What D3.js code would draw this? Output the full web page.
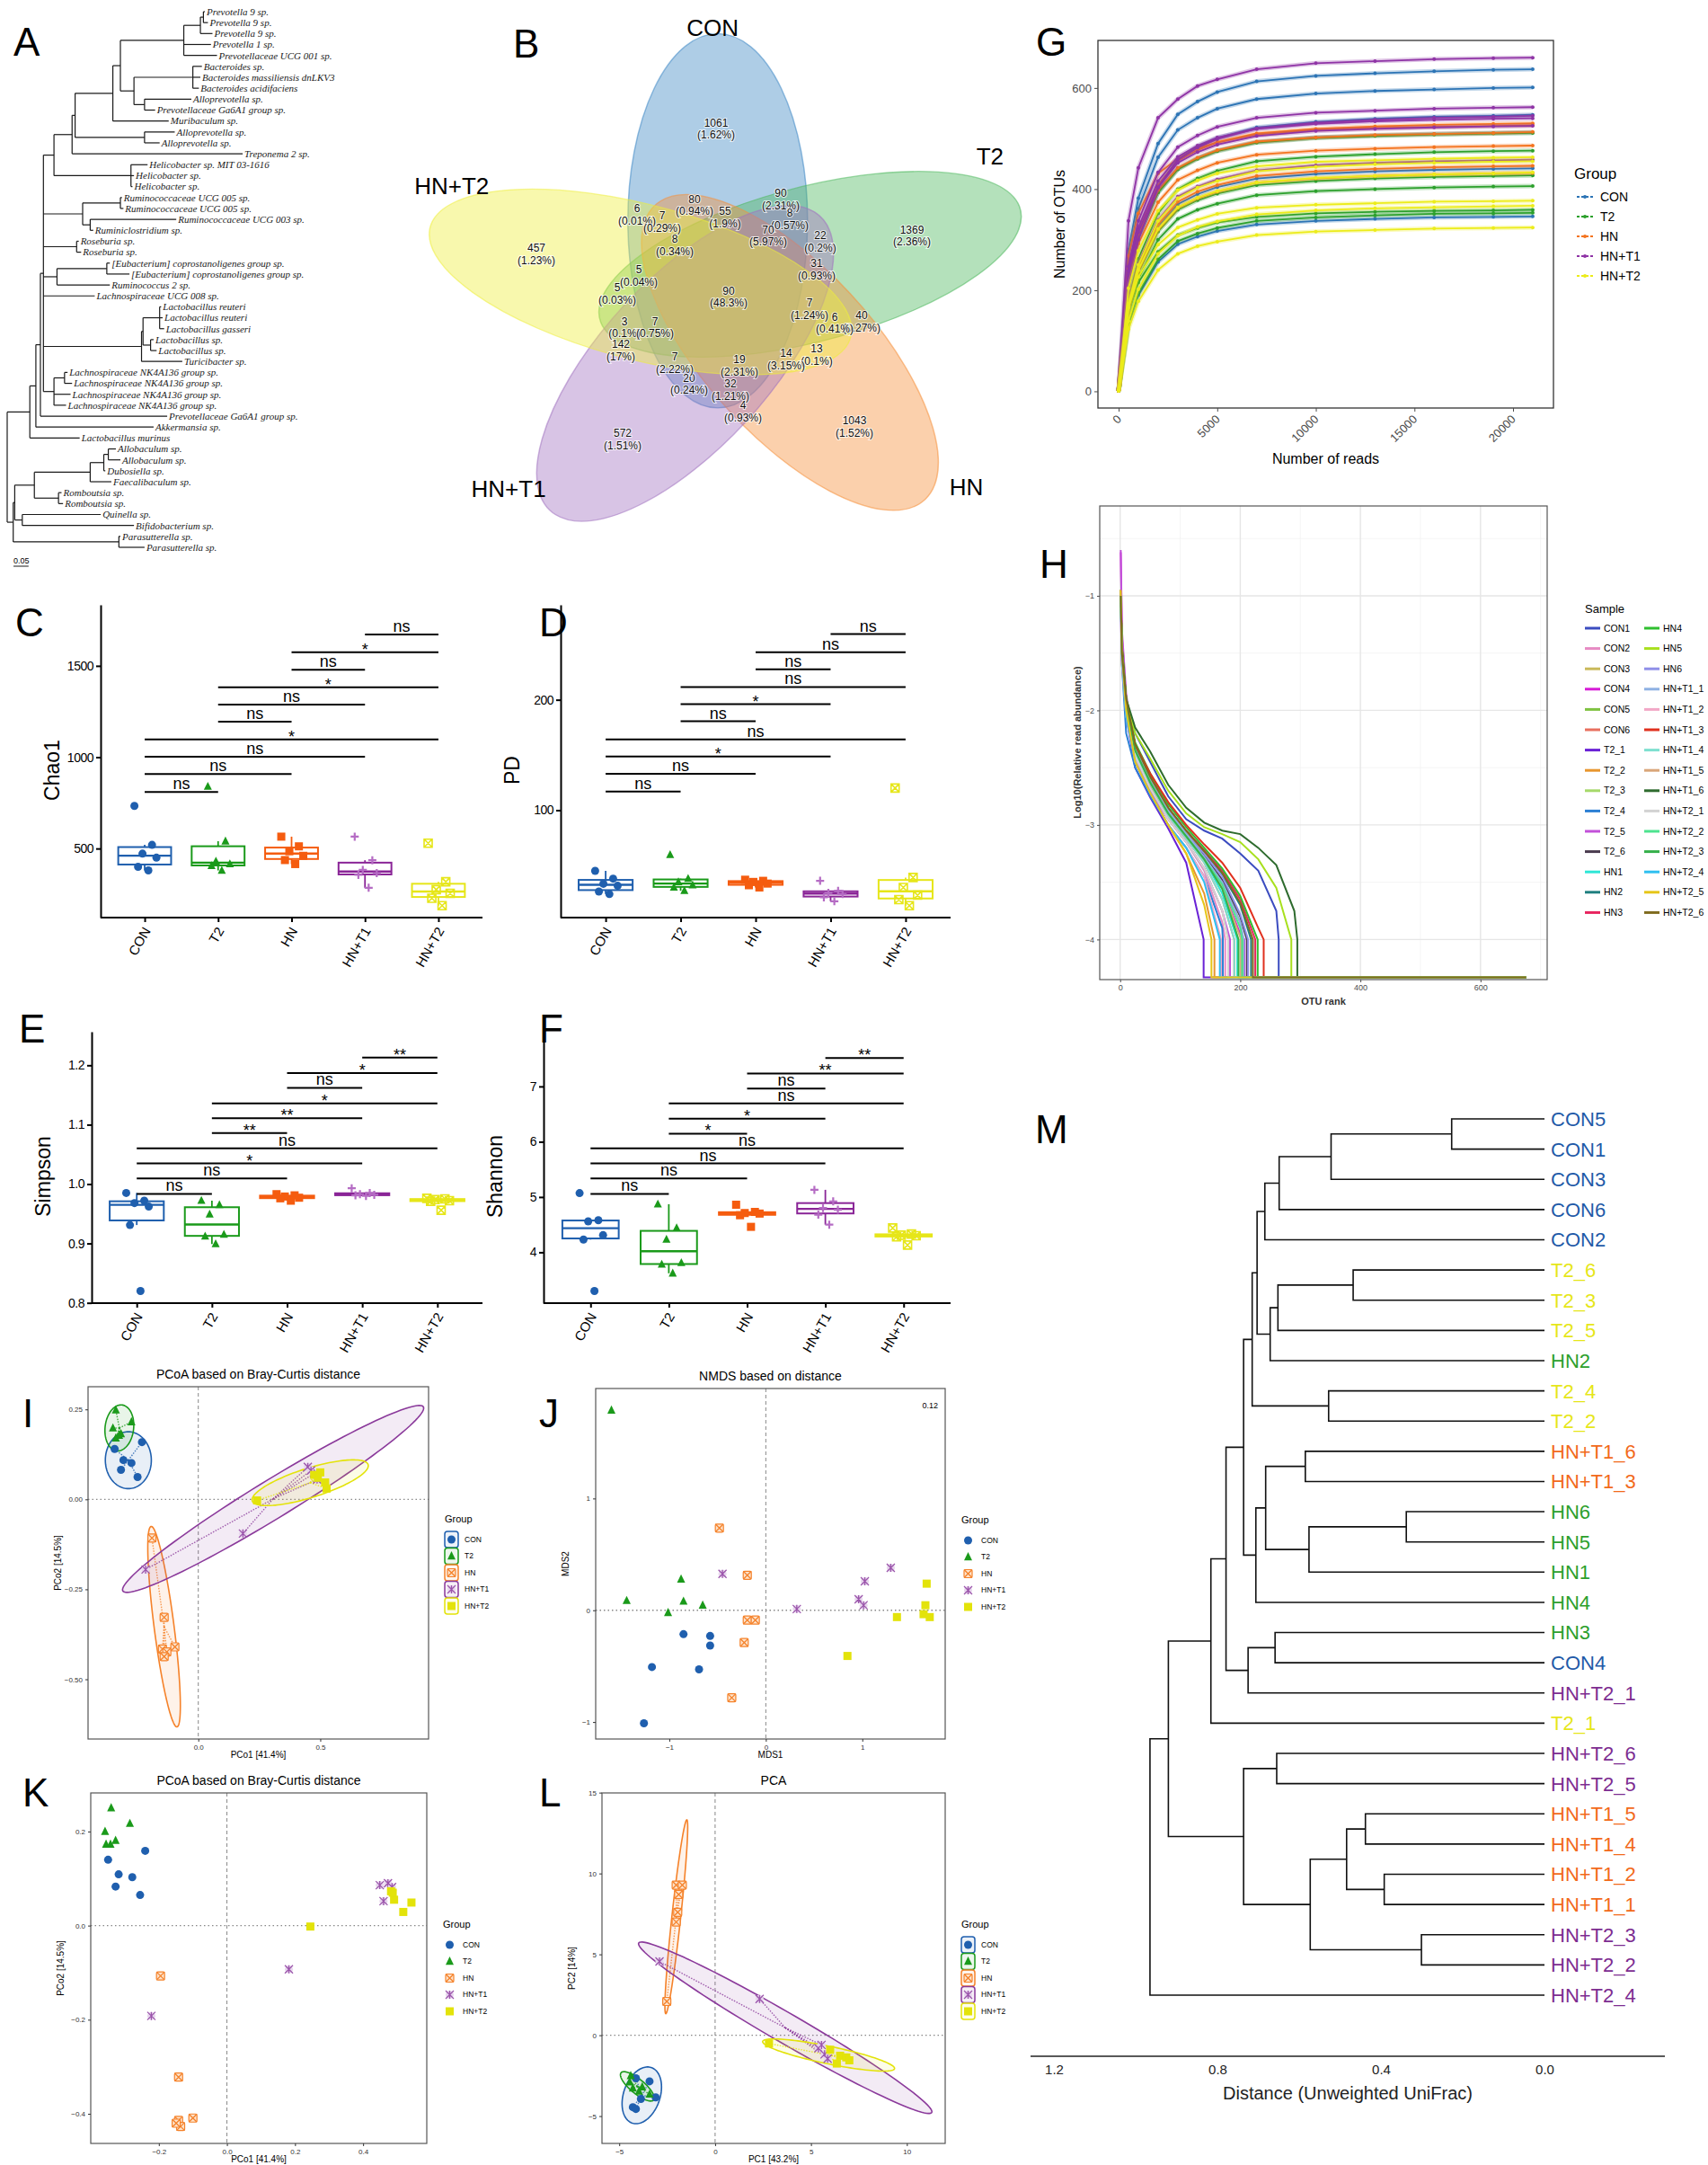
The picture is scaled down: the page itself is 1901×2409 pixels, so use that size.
<!DOCTYPE html>
<html>
<head>
<meta charset="utf-8">
<title>Gut microbiota diversity figure</title>
<script src="https://cdn.jsdelivr.net/npm/d3@7/dist/d3.min.js"></script>
<style>
  body { margin: 0; background: #fff; }
  svg { display: block; }
</style>
</head>
<body>
<svg id="figure" width="1901" height="2409"></svg>
<script>
const groups = ['CON', 'T2', 'HN', 'HN+T1', 'HN+T2'];

// A: phylogenetic tree (leaf index : branch length)
const treeNewick =
  '(((((((((((((0:0.005,1:0.015):0.01,2:0.04):0.055,3:0.09,4:0.11):0.21,' +
  '((5:0.03,6:0.025,7:0.02):0.195,(8:0.155,9:0.035):0.035):0.045):0.025,' +
  '10:0.185):0.125,(11:0.1,12:0.05):0.23):0.01,13:0.565):0.06,' +
  '(14:0.055,15:0.01,16:0.005):0.255):0.035,' +
  '((17:0.005,18:0.01):0.125,(19:0.285,20:0.01):0.025):0.13,' +
  '(21:0.007,22:0.015):0.11,' +
  '((23:0.01,24:0.075):0.165,25:0.175):0.045,' +
  '26:0.17,' +
  '(((27:0.005,28:0.01,29:0.015):0.055,(30:0.01,31:0.02):0.025):0.005,32:0.135):0.325,' +
  '((33:0.01,34:0.025):0.035,35:0.055,36:0.04):0.035):0.01,' +
  '37:0.42):0.015,38:0.39):0.02,39:0.165):0.075,' +
  '((((((40:0.025,41:0.04):0.015,42:0.005):0.045,43:0.07):0.185,(44:0.01,45:0.015):0.08):0.065,' +
  '(46:0.26,47:0.37):0.025):0.005,(48:0.005,49:0.085):0.35):0.02);';
const treeLeafNames = [
  'Prevotella 9 sp.', 'Prevotella 9 sp.', 'Prevotella 9 sp.', 'Prevotella 1 sp.', 'Prevotellaceae UCG 001 sp.',
  'Bacteroides sp.', 'Bacteroides massiliensis dnLKV3', 'Bacteroides acidifaciens', 'Alloprevotella sp.',
  'Prevotellaceae Ga6A1 group sp.', 'Muribaculum sp.', 'Alloprevotella sp.', 'Alloprevotella sp.',
  'Treponema 2 sp.', 'Helicobacter sp. MIT 03-1616', 'Helicobacter sp.', 'Helicobacter sp.',
  'Ruminococcaceae UCG 005 sp.', 'Ruminococcaceae UCG 005 sp.', 'Ruminococcaceae UCG 003 sp.',
  'Ruminiclostridium sp.', 'Roseburia sp.', 'Roseburia sp.', '[Eubacterium] coprostanoligenes group sp.',
  '[Eubacterium] coprostanoligenes group sp.', 'Ruminococcus 2 sp.', 'Lachnospiraceae UCG 008 sp.',
  'Lactobacillus reuteri', 'Lactobacillus reuteri', 'Lactobacillus gasseri', 'Lactobacillus sp.',
  'Lactobacillus sp.', 'Turicibacter sp.', 'Lachnospiraceae NK4A136 group sp.',
  'Lachnospiraceae NK4A136 group sp.', 'Lachnospiraceae NK4A136 group sp.', 'Lachnospiraceae NK4A136 group sp.',
  'Prevotellaceae Ga6A1 group sp.', 'Akkermansia sp.', 'Lactobacillus murinus', 'Allobaculum sp.',
  'Allobaculum sp.', 'Dubosiella sp.', 'Faecalibaculum sp.', 'Romboutsia sp.', 'Romboutsia sp.',
  'Quinella sp.', 'Bifidobacterium sp.', 'Parasutterella sp.', 'Parasutterella sp.'
];

// B: Venn of OTUs
const vennSets = [
  'CON', 'T2', 'HN', 'HN+T1', 'HN+T2',
  'CON&T2', 'CON&HN', 'CON&HN+T1', 'CON&HN+T2', 'T2&HN', 'T2&HN+T1', 'T2&HN+T2', 'HN&HN+T1', 'HN&HN+T2', 'HN+T1&HN+T2',
  'CON&T2&HN', 'CON&T2&HN+T1', 'CON&T2&HN+T2', 'CON&HN&HN+T1', 'CON&HN&HN+T2', 'CON&HN+T1&HN+T2',
  'T2&HN&HN+T1', 'T2&HN&HN+T2', 'T2&HN+T1&HN+T2', 'HN&HN+T1&HN+T2',
  'CON&T2&HN&HN+T1', 'CON&T2&HN&HN+T2', 'CON&T2&HN+T1&HN+T2', 'CON&HN&HN+T1&HN+T2', 'T2&HN&HN+T1&HN+T2',
  'CON&T2&HN&HN+T1&HN+T2'
];
const vennCounts = [1061, 1369, 1043, 572, 457, 90, 80, 20, 6, 40, 22, 5, 4, 13, 142,
  55, 8, 5, 32, 7, 7, 31, 6, 3, 14, 70, 8, 7, 19, 7, 90];
const vennPercents = ['1.62%', '2.36%', '1.52%', '1.51%', '1.23%', '2.31%', '0.94%', '0.24%', '0.01%', '0.27%',
  '0.2%', '0.03%', '0.93%', '0.1%', '17%', '1.9%', '0.57%', '0.04%', '1.21%', '0.29%', '2.22%', '0.93%',
  '0.41%', '0.1%', '3.15%', '5.97%', '0.34%', '0.75%', '2.31%', '1.24%', '48.3%'];

// G: rarefaction curves
const rareDepths = [1, 500, 1000, 2000, 3000, 4000, 5000, 7000, 10000, 13000, 16000, 19000, 21000];
const rareGroups = ['CON', 'CON', 'CON', 'CON', 'CON', 'CON', 'T2', 'T2', 'T2', 'T2', 'T2', 'T2',
  'HN', 'HN', 'HN', 'HN', 'HN', 'HN', 'HN+T1', 'HN+T1', 'HN+T1', 'HN+T1', 'HN+T1', 'HN+T1',
  'HN+T2', 'HN+T2', 'HN+T2', 'HN+T2', 'HN+T2', 'HN+T2'];
const rareOTUs = [
  [1, 280, 382, 490, 548, 573, 592, 613, 624, 629, 633, 636, 637],
  [1, 264, 361, 463, 517, 541, 559, 578, 589, 594, 597, 600, 601],
  [1, 208, 301, 405, 459, 484, 501, 522, 533, 539, 543, 545, 547],
  [1, 225, 307, 394, 440, 461, 476, 493, 502, 506, 509, 511, 512],
  [1, 168, 243, 326, 370, 390, 404, 421, 430, 435, 438, 440, 441],
  [1, 131, 190, 256, 291, 306, 317, 330, 337, 341, 344, 345, 346],
  [1, 225, 307, 393, 439, 460, 475, 492, 501, 505, 508, 510, 511],
  [1, 181, 262, 352, 400, 421, 436, 455, 464, 469, 473, 475, 476],
  [1, 162, 235, 316, 359, 378, 391, 408, 416, 421, 424, 426, 427],
  [1, 154, 223, 300, 341, 359, 371, 388, 396, 400, 403, 405, 406],
  [1, 158, 215, 276, 309, 323, 334, 345, 352, 355, 357, 358, 359],
  [1, 134, 194, 261, 297, 312, 323, 337, 344, 348, 351, 352, 353],
  [1, 233, 318, 408, 456, 477, 493, 510, 519, 524, 527, 529, 530],
  [1, 268, 352, 431, 460, 481, 492, 508, 517, 521, 523, 525, 526],
  [1, 214, 292, 374, 418, 437, 452, 468, 476, 480, 483, 485, 486],
  [1, 169, 245, 330, 375, 395, 408, 426, 435, 440, 443, 445, 446],
  [1, 164, 238, 320, 363, 382, 395, 413, 421, 426, 429, 431, 432],
  [1, 230, 312, 398, 442, 462, 477, 494, 502, 507, 509, 511, 513],
  [1, 337, 442, 541, 578, 604, 617, 637, 649, 653, 657, 659, 660],
  [1, 247, 337, 433, 483, 506, 523, 541, 551, 555, 559, 561, 562],
  [1, 207, 300, 403, 458, 482, 499, 520, 531, 537, 541, 543, 545],
  [1, 238, 324, 416, 464, 486, 502, 519, 529, 534, 537, 539, 540],
  [1, 231, 315, 404, 452, 473, 488, 505, 515, 519, 522, 524, 525],
  [1, 174, 252, 339, 385, 405, 419, 437, 447, 452, 455, 457, 458],
  [1, 204, 278, 357, 398, 417, 431, 445, 454, 457, 460, 462, 463],
  [1, 173, 250, 337, 382, 403, 416, 435, 444, 449, 452, 454, 455],
  [1, 166, 240, 321, 364, 383, 396, 413, 422, 426, 429, 431, 433],
  [1, 166, 226, 290, 324, 339, 351, 363, 369, 372, 375, 376, 377],
  [1, 139, 202, 272, 308, 325, 336, 350, 358, 362, 364, 366, 367],
  [1, 123, 178, 240, 272, 287, 296, 309, 316, 319, 322, 323, 324]
];

// H: rank abundance curves
const rankGrid = [1, 3, 10, 25, 50, 80, 110, 140, 170, 200, 230, 260, 290];
const rankSamples = ['CON1', 'CON2', 'CON3', 'CON4', 'CON5', 'CON6', 'T2_1', 'T2_2', 'T2_3', 'T2_4', 'T2_5', 'T2_6',
  'HN1', 'HN2', 'HN3', 'HN4', 'HN5', 'HN6', 'HN+T1_1', 'HN+T1_2', 'HN+T1_3', 'HN+T1_4', 'HN+T1_5', 'HN+T1_6',
  'HN+T2_1', 'HN+T2_2', 'HN+T2_3', 'HN+T2_4', 'HN+T2_5', 'HN+T2_6'];
const rankColors = ['#3b4cc0', '#e78ac3', '#c9b95a', '#d61cd6', '#7fc241', '#e8705f', '#6a22d6', '#e8962e',
  '#a6d96a', '#2b7fd4', '#c251d9', '#4a3b4f', '#2ee6d6', '#1f7f7f', '#e8245f', '#2fbf2f', '#a8e01e', '#8f8fe8',
  '#8fb1e3', '#f2a7c6', '#e0301e', '#7fe0d0', '#d9a679', '#2e6b2e', '#d3d3d3', '#4de38f', '#35b04a', '#2fbff0',
  '#e6c619', '#7f6b1f'];
const rankEnds = [264, 175, 180, 207, 205, 190, 139, 157, 197, 171, 183, 211, 195, 218, 225, 229, 285, 213,
  206, 168, 239, 190, 201, 295, 180, 203, 197, 166, 152, 221];
const rankMaxRank = 676;
const rankValues = [
  [-0.95, -1.45, -1.9, -2.2, -2.45, -2.75, -2.95, -3.05, -3.12, -3.25, -3.4, -3.75],
  [-1.1, -1.6, -2.0, -2.45, -2.72, -2.95, -3.15, -3.4, -3.85],
  [-1.05, -1.5, -1.95, -2.4, -2.68, -2.95, -3.15, -3.38, -3.75],
  [-0.62, -1.35, -1.9, -2.35, -2.62, -2.9, -3.1, -3.3, -3.55, -3.95],
  [-0.95, -1.45, -1.95, -2.35, -2.6, -2.88, -3.08, -3.28, -3.5, -3.85],
  [-1.0, -1.55, -2.0, -2.4, -2.65, -2.92, -3.12, -3.33, -3.65],
  [-1.05, -1.55, -2.05, -2.5, -2.76, -3.03, -3.33],
  [-0.95, -1.5, -2.0, -2.45, -2.72, -3.0, -3.25, -3.6],
  [-1.0, -1.5, -1.95, -2.35, -2.62, -2.9, -3.1, -3.3, -3.55],
  [-1.1, -1.6, -2.2, -2.5, -2.75, -3.0, -3.2, -3.45, -3.9],
  [-0.6, -1.3, -1.85, -2.4, -2.7, -2.95, -3.15, -3.38, -3.75],
  [-1.0, -1.5, -1.95, -2.3, -2.6, -2.88, -3.08, -3.27, -3.48, -3.8],
  [-1.05, -1.5, -1.95, -2.35, -2.62, -2.9, -3.1, -3.3, -3.6],
  [-1.0, -1.5, -1.9, -2.3, -2.58, -2.85, -3.05, -3.23, -3.43, -3.7],
  [-1.0, -1.5, -1.9, -2.3, -2.58, -2.85, -3.05, -3.22, -3.4, -3.65],
  [-1.0, -1.45, -1.9, -2.28, -2.55, -2.82, -3.02, -3.2, -3.38, -3.62],
  [-1.0, -1.45, -1.9, -2.2, -2.42, -2.7, -2.9, -3.02, -3.08, -3.15, -3.3, -3.55],
  [-1.0, -1.5, -1.95, -2.32, -2.6, -2.87, -3.07, -3.25, -3.45, -3.78],
  [-1.0, -1.5, -1.95, -2.35, -2.62, -2.88, -3.08, -3.28, -3.5, -3.85],
  [-1.15, -1.6, -2.05, -2.45, -2.72, -3.0, -3.2, -3.45],
  [-1.0, -1.45, -1.95, -2.3, -2.55, -2.8, -3.0, -3.17, -3.33, -3.55, -3.9],
  [-1.0, -1.5, -1.95, -2.38, -2.64, -2.92, -3.12, -3.33, -3.65],
  [-1.0, -1.5, -1.95, -2.35, -2.62, -2.9, -3.1, -3.3, -3.55, -3.98],
  [-1.0, -1.45, -1.9, -2.15, -2.36, -2.65, -2.85, -2.98, -3.05, -3.08, -3.2, -3.35, -3.75],
  [-1.1, -1.55, -2.0, -2.4, -2.68, -2.95, -3.15, -3.38, -3.75],
  [-1.0, -1.5, -1.95, -2.35, -2.62, -2.9, -3.1, -3.3, -3.52, -3.9],
  [-1.0, -1.5, -1.95, -2.35, -2.63, -2.9, -3.1, -3.3, -3.56],
  [-1.0, -1.55, -2.05, -2.45, -2.72, -3.0, -3.2, -3.5],
  [-0.95, -1.5, -2.0, -2.45, -2.72, -3.0, -3.25, -3.7],
  [-1.0, -1.5, -1.9, -2.3, -2.58, -2.85, -3.05, -3.23, -3.42, -3.68]
];

// C-F: alpha diversity, 6 samples per group
const chao1 = [[733, 520, 472, 450, 400, 380], [839, 540, 430, 415, 405, 380], [565, 512, 485, 460, 437, 415],
  [565, 436, 383, 365, 356, 285], [529, 318, 275, 255, 228, 187]];
const pdIndex = [[45, 38, 33.3, 31.5, 26.3, 24], [59.5, 38, 35, 32, 30, 27], [37, 36, 35, 33.5, 32, 30],
  [36, 27, 25, 24, 21, 17.5], [120, 39, 30, 23, 19, 13.5]];
const simpson = [[0.985, 0.972, 0.968, 0.962, 0.931, 0.820], [0.972, 0.965, 0.949, 0.915, 0.912, 0.899],
  [0.983, 0.981, 0.979, 0.977, 0.976, 0.972], [0.993, 0.985, 0.983, 0.982, 0.981, 0.980],
  [0.976, 0.975, 0.974, 0.972, 0.971, 0.956]];
const shannon = [[5.07, 4.58, 4.56, 4.31, 4.23, 3.30], [4.87, 4.44, 4.23, 3.81, 3.78, 3.62],
  [4.86, 4.73, 4.71, 4.70, 4.67, 4.46], [5.13, 4.92, 4.80, 4.77, 4.68, 4.50], [4.44, 4.33, 4.31, 4.30, 4.28, 4.13]];
const sigPairs = [[0, 1], [0, 2], [0, 3], [0, 4], [1, 2], [1, 3], [1, 4], [2, 3], [2, 4], [3, 4]];
const chao1Sig = ['ns', 'ns', 'ns', '*', 'ns', 'ns', '*', 'ns', '*', 'ns'];
const pdSig = ['ns', 'ns', '*', 'ns', 'ns', '*', 'ns', 'ns', 'ns', 'ns'];
const simpsonSig = ['ns', 'ns', '*', 'ns', '**', '**', '*', 'ns', '*', '**'];
const shannonSig = ['ns', 'ns', 'ns', 'ns', '*', '*', 'ns', 'ns', '**', '**'];
const chao1Bars = [810, 908, 1002, 1097, 1195, 1288, 1383, 1479, 1574, 1672];
const pdBars = [116.8, 133, 148.6, 164, 180.5, 196, 211.6, 227.6, 243, 259.5];
const simpsonBars = [0.9835, 1.0096, 1.0348, 1.06, 1.086, 1.111, 1.136, 1.162, 1.187, 1.213];
const shannonBars = [5.056, 5.336, 5.607, 5.879, 6.145, 6.416, 6.692, 6.963, 7.234, 7.514];

// I-L: ordinations, 6 samples per group
const pcoaX = [[-0.343, -0.231, -0.307, -0.274, -0.317, -0.249], [-0.338, -0.274, -0.350, -0.325, -0.338, -0.317],
  [-0.190, -0.140, -0.147, -0.129, -0.096, -0.140], [-0.216, 0.183, 0.449, 0.462, 0.475, 0.487],
  [0.241, 0.475, 0.49, 0.52, 0.526, 0.50]];
const pcoaY = [[0.14, 0.159, 0.109, 0.101, 0.082, 0.062], [0.248, 0.215, 0.198, 0.178, 0.170, 0.182],
  [-0.1075, -0.328, -0.416, -0.424, -0.41, -0.437], [-0.195, -0.095, 0.09, 0.080, 0.072, 0.055],
  [-0.003, 0.068, 0.06, 0.047, 0.03, 0.075]];
const nmdsX = [[-0.853, -0.577, -0.577, -1.18, -0.692, -1.263], [-1.60, -0.878, -1.442, -0.853, -0.654, -1.013],
  [-0.481, -0.192, -0.192, -0.109, -0.224, -0.353], [-0.449, 0.321, 0.962, 1.013, 1.026, 1.295],
  [0.846, 1.359, 1.635, 1.699, 1.654, 1.667]];
const nmdsY = [[-0.214, -0.23, -0.316, -0.508, -0.529, -1.011], [1.789, 0.278, 0.086, 0.080, 0.045, -0.021],
  [0.735, 0.313, -0.088, -0.088, -0.289, -0.783], [0.326, 0.011, 0.099, 0.045, 0.259, 0.380],
  [-0.409, -0.061, -0.035, -0.061, 0.045, 0.238]];
const nmdsStress = '0.12';
const pcoa2X = [[-0.24, -0.349, -0.318, -0.278, -0.327, -0.255], [-0.34, -0.285, -0.358, -0.327, -0.355, -0.342],
  [-0.195, -0.142, -0.142, -0.1, -0.136, -0.149], [-0.222, 0.182, 0.449, 0.473, 0.46, 0.485],
  [0.245, 0.482, 0.491, 0.542, 0.518, 0.487]];
const pcoa2Y = [[0.159, 0.14, 0.109, 0.103, 0.083, 0.065], [0.25, 0.217, 0.2, 0.181, 0.173, 0.173],
  [-0.107, -0.322, -0.414, -0.409, -0.427, -0.42], [-0.192, -0.093, 0.086, 0.090, 0.052, 0.082],
  [-0.002, 0.073, 0.055, 0.049, 0.029, 0.07]];
const pcaX = [[-4.13, -3.42, -4.29, -4.13, -3.87, -3.1], [-4.45, -4.29, -3.97, -3.8, -3.42, -4.4],
  [-2.03, -1.71, -1.9, -2.03, -1.95, -2.52], [-2.9, 2.32, 5.39, 5.71, 5.55, 5.87],
  [2.81, 6.52, 6.84, 6.35, 6.0, 7.0]];
const pcaY = [[-2.66, -2.85, -4.45, -4.56, -3.94, -3.84], [-2.89, -3.27, -3.46, -3.2, -3.65, -2.5],
  [9.28, 9.28, 8.7, 7.0, 7.6, 2.09], [4.56, 2.24, -0.8, -1.18, -0.6, -1.45],
  [-0.51, -1.27, -1.37, -1.75, -0.9, -1.55]];

// M: UPGMA dendrogram (merge rows; numbers refer to earlier rows)
const dendroLeaves = ['CON5', 'CON1', 'CON3', 'CON6', 'CON2', 'T2_6', 'T2_3', 'T2_5', 'HN2', 'T2_4', 'T2_2',
  'HN+T1_6', 'HN+T1_3', 'HN6', 'HN5', 'HN1', 'HN4', 'HN3', 'CON4', 'HN+T2_1', 'T2_1', 'HN+T2_6', 'HN+T2_5',
  'HN+T1_5', 'HN+T1_4', 'HN+T1_2', 'HN+T1_1', 'HN+T2_3', 'HN+T2_2', 'HN+T2_4'];
const mergeLeft = ['CON5', 0, 1, 2, 'T2_6', 4, 5, 3, 'T2_4', 7, 'HN+T1_6', 'HN6', 11, 10, 13, 9, 'HN3', 16, 15, 18,
  'HN+T2_6', 'HN+T1_5', 'HN+T1_2', 21, 'HN+T2_3', 23, 20, 19, 27];
const mergeRight = ['CON1', 'CON3', 'CON6', 'CON2', 'T2_3', 'T2_5', 'HN2', 6, 'T2_2', 8, 'HN+T1_3', 'HN5', 'HN1',
  12, 'HN4', 14, 'CON4', 'HN+T2_1', 17, 'T2_1', 'HN+T2_5', 'HN+T1_4', 'HN+T1_1', 22, 'HN+T2_2', 24, 25, 26,
  'HN+T2_4'];
const mergeHeight = [0.227, 0.522, 0.649, 0.684, 0.468, 0.652, 0.671, 0.703, 0.528, 0.715, 0.585, 0.338, 0.576,
  0.682, 0.706, 0.736, 0.659, 0.725, 0.779, 0.816, 0.655, 0.438, 0.392, 0.484, 0.301, 0.573, 0.736, 0.92, 0.965];

const svg = d3.select('#figure');
const SANS = "'Liberation Sans', Arial, Helvetica, sans-serif";
const SERIF = "'Liberation Serif', 'Times New Roman', serif";

function letter(t, x, y) {
  svg.append('text').attr('x', x).attr('y', y)
    .attr('font-family', SANS).attr('font-size', 44).text(t);
}

function styleAxis(sel, size, color, width) {
  sel.selectAll('text').attr('font-family', SANS).attr('font-size', size).attr('fill', color);
  sel.selectAll('line').attr('stroke', color).attr('stroke-width', width);
  sel.select('.domain').attr('stroke', color).attr('stroke-width', width);
}

function parseNewick(s) {
  let i = 0;
  function node() {
    const n = { children: [] };
    if (s[i] === '(') {
      i++;
      n.children.push(node());
      while (s[i] === ',') { i++; n.children.push(node()); }
      i++;
    }
    let label = '';
    while (i < s.length && !':,);'.includes(s[i])) label += s[i++];
    if (label) n.leaf = +label;
    if (s[i] === ':') {
      i++;
      let len = '';
      while (i < s.length && !',);'.includes(s[i])) len += s[i++];
      n.length = +len;
    }
    return n;
  }
  return node();
}

function drawTree() {
  const root = d3.hierarchy(parseNewick(treeNewick), d => d.children.length ? d.children : null);
  root.eachBefore(d => { d.dist = (d.parent ? d.parent.dist : 0) + (d.data.length || 0); });
  const leaves = root.leaves();
  const x = d3.scaleLinear().domain([0, 1]).range([8, 344]);
  const y = d3.scaleLinear().domain([0, leaves.length - 1]).range([13, 609]);
  leaves.forEach((d, i) => { d.yPos = y(i); });
  root.eachAfter(d => {
    if (d.children) d.yPos = (d.children[0].yPos + d.children[d.children.length - 1].yPos) / 2;
  });

  const g = svg.append('g').attr('stroke', '#1a1a1a').attr('stroke-width', 1.2);
  root.descendants().forEach(d => {
    if (d.parent) {
      g.append('line').attr('x1', x(d.parent.dist)).attr('x2', x(d.dist)).attr('y1', d.yPos).attr('y2', d.yPos);
    }
    if (d.children) {
      g.append('line').attr('x1', x(d.dist)).attr('x2', x(d.dist))
        .attr('y1', d.children[0].yPos).attr('y2', d.children[d.children.length - 1].yPos);
    }
  });

  svg.append('g').selectAll('text').data(leaves).join('text')
    .attr('x', d => x(d.dist) + 2)
    .attr('y', d => d.yPos)
    .attr('dy', '0.35em')
    .attr('font-family', SERIF).attr('font-style', 'italic').attr('font-size', 11)
    .attr('fill', '#1a1a1a')
    .text(d => treeLeafNames[d.data.leaf]);

  svg.append('text').attr('x', 15).attr('y', 627).attr('font-family', SANS).attr('font-size', 9).text('0.05');
  svg.append('line').attr('x1', 15).attr('x2', x(0.05) + 7).attr('y1', 630).attr('y2', 630)
    .attr('stroke', '#1a1a1a').attr('stroke-width', 1);
}

function drawVenn() {
  const cx = 811, cy = 330, squash = 0.85, a = 245, b = 100, off = 100;
  const fills = ['#3d87c4', '#4cb85c', '#f5903a', '#a173c0', '#eeee3c'];
  const ells = groups.map((name, i) => {
    const psi = (-97 + 72 * i) * Math.PI / 180;
    return { name, x: off * Math.cos(psi), y: off * Math.sin(psi), rot: psi + 7 * Math.PI / 180 };
  });

  const g = svg.append('g').attr('transform', `translate(${cx},${cy}) scale(1,${squash})`);
  g.selectAll('ellipse').data(ells).join('ellipse')
    .attr('transform', d => `translate(${d.x},${d.y}) rotate(${d.rot * 180 / Math.PI})`)
    .attr('rx', a).attr('ry', b)
    .attr('fill', (d, i) => fills[i]).attr('fill-opacity', 0.42)
    .attr('stroke', (d, i) => fills[i]).attr('stroke-opacity', 0.55).attr('stroke-width', 1.5);

  // sample the plane, then place each label near its region's centre of mass
  const regions = new Map();
  for (let px = -360; px <= 360; px += 2) {
    for (let py = -360; py <= 360; py += 2) {
      let code = 0, depth = Infinity;
      ells.forEach((e, i) => {
        const dx = px - e.x, dy = py - e.y;
        const c = Math.cos(e.rot), s = Math.sin(e.rot);
        const u = dx * c + dy * s, v = -dx * s + dy * c;
        const g2 = (u * u) / (a * a) + (v * v) / (b * b);
        const gr = 2 * Math.hypot(u / (a * a), v / (b * b)) || 1e-9;
        if (g2 <= 1) code |= 1 << i;
        depth = Math.min(depth, Math.abs(g2 - 1) / gr);
      });
      if (!code) continue;
      if (!regions.has(code)) regions.set(code, []);
      regions.get(code).push({ x: px, y: py, depth });
    }
  }
  const anchor = new Map();
  regions.forEach((pts, code) => {
    const mx = d3.mean(pts, p => p.x), my = d3.mean(pts, p => p.y);
    anchor.set(code, d3.greatest(pts, p => Math.min(p.depth, 24) - 0.15 * Math.hypot(p.x - mx, p.y - my)));
  });

  const labels = svg.append('g').attr('font-family', SANS).attr('font-size', 12)
    .attr('text-anchor', 'middle').attr('fill', '#111')
    .attr('stroke', '#fff').attr('stroke-width', 2.2).attr('stroke-opacity', 0.7)
    .attr('paint-order', 'stroke');
  vennSets.forEach((key, k) => {
    const code = key.split('&').reduce((m, n) => m | (1 << groups.indexOf(n)), 0);
    const p = anchor.get(code);
    const t = labels.append('text').attr('x', cx + p.x).attr('y', cy + p.y * squash);
    t.append('tspan').attr('x', cx + p.x).attr('dy', '-0.2em').text(vennCounts[k]);
    t.append('tspan').attr('x', cx + p.x).attr('dy', '1.15em').text(`(${vennPercents[k]})`);
  });

  const nameAngles = [-93.4, -28.2, 38.7, 138.9, 201.8];
  const nameRadii = [300, 330, 339, 325, 332];
  svg.append('g').selectAll('text').data(groups).join('text')
    .attr('x', (d, i) => cx + nameRadii[i] * Math.cos(nameAngles[i] * Math.PI / 180))
    .attr('y', (d, i) => cy + nameRadii[i] * Math.sin(nameAngles[i] * Math.PI / 180))
    .attr('dy', '0.35em').attr('text-anchor', 'middle')
    .attr('font-family', SANS).attr('font-size', 26).text(d => d);
}

function drawRarefaction() {
  const colors = ['#2c74b5', '#2ca02c', '#f4741f', '#8f34a6', '#ecec1a'];
  const box = [1222, 45, 1729, 454];
  const x = d3.scaleLinear().domain([-1050, 22050]).range([box[0], box[2]]);
  const y = d3.scaleLinear().domain([-33, 694]).range([box[3], box[1]]);
  const g = svg.append('g');
  const line = d3.line().x((d, i) => x(rareDepths[i])).y(d => y(d));

  rareOTUs.forEach((vals, k) => {
    const col = colors[groups.indexOf(rareGroups[k])];
    g.append('path').attr('d', line(vals)).attr('fill', 'none')
      .attr('stroke', col).attr('stroke-opacity', 0.28).attr('stroke-width', 5);
    g.append('path').attr('d', line(vals)).attr('fill', 'none')
      .attr('stroke', col).attr('stroke-width', 1.8);
    g.append('g').selectAll('circle').data(vals).join('circle')
      .attr('cx', (d, i) => x(rareDepths[i])).attr('cy', d => y(d)).attr('r', 2).attr('fill', col);
  });

  svg.append('rect').attr('x', box[0]).attr('y', box[1])
    .attr('width', box[2] - box[0]).attr('height', box[3] - box[1])
    .attr('fill', 'none').attr('stroke', '#333').attr('stroke-width', 1.3);

  const ya = svg.append('g').attr('transform', `translate(${box[0]},0)`)
    .call(d3.axisLeft(y).tickValues([0, 200, 400, 600]).tickSize(4).tickSizeOuter(0));
  ya.select('.domain').remove();
  styleAxis(ya, 13, '#4d4d4d', 1);

  const xa = svg.append('g').attr('transform', `translate(0,${box[3]})`)
    .call(d3.axisBottom(x).tickValues([0, 5000, 10000, 15000, 20000]).tickFormat(d3.format('d')).tickSize(4).tickSizeOuter(0));
  xa.select('.domain').remove();
  styleAxis(xa, 13, '#4d4d4d', 1);
  xa.selectAll('text').attr('y', 0).attr('dy', '0.35em')
    .attr('transform', 'translate(0,10) rotate(-45)').attr('text-anchor', 'end');

  svg.append('text').attr('x', (box[0] + box[2]) / 2).attr('y', 516).attr('text-anchor', 'middle')
    .attr('font-family', SANS).attr('font-size', 16).text('Number of reads');
  svg.append('text').attr('transform', `translate(1185,${(box[1] + box[3]) / 2}) rotate(-90)`)
    .attr('text-anchor', 'middle').attr('font-family', SANS).attr('font-size', 16).text('Number of OTUs');

  const lg = svg.append('g').attr('font-family', SANS);
  lg.append('text').attr('x', 1752).attr('y', 199).attr('font-size', 17).text('Group');
  groups.forEach((name, i) => {
    const yy = 219 + 22 * i;
    lg.append('line').attr('x1', 1755).attr('x2', 1773).attr('y1', yy).attr('y2', yy)
      .attr('stroke', colors[i]).attr('stroke-width', 2).attr('stroke-dasharray', '3,2');
    lg.append('circle').attr('cx', 1764).attr('cy', yy).attr('r', 2).attr('fill', colors[i]);
    lg.append('text').attr('x', 1781).attr('y', yy).attr('dy', '0.35em').attr('font-size', 14).text(name);
  });
}

function drawRankAbundance() {
  const box = [1224, 563, 1722, 1090];
  const floor = -4.33;
  const x = d3.scaleLinear().domain([-34, 711]).range([box[0], box[2]]);
  const y = d3.scaleLinear().domain([-4.35, -0.216]).range([box[3], box[1]]);
  const g = svg.append('g');
  const clip = svg.append('clipPath').attr('id', 'rankClip');
  clip.append('rect').attr('x', box[0]).attr('y', box[1]).attr('width', box[2] - box[0]).attr('height', box[3] - box[1]);

  [100, 300, 500, 700].forEach(v => g.append('line').attr('x1', x(v)).attr('x2', x(v))
    .attr('y1', box[1]).attr('y2', box[3]).attr('stroke', '#f2f2f2').attr('stroke-width', 0.8));
  [-0.5, -1.5, -2.5, -3.5].forEach(v => g.append('line').attr('x1', box[0]).attr('x2', box[2])
    .attr('y1', y(v)).attr('y2', y(v)).attr('stroke', '#f2f2f2').attr('stroke-width', 0.8));
  [0, 200, 400, 600].forEach(v => g.append('line').attr('x1', x(v)).attr('x2', x(v))
    .attr('y1', box[1]).attr('y2', box[3]).attr('stroke', '#e6e6e6').attr('stroke-width', 1.4));
  [-1, -2, -3, -4].forEach(v => g.append('line').attr('x1', box[0]).attr('x2', box[2])
    .attr('y1', y(v)).attr('y2', y(v)).attr('stroke', '#e6e6e6').attr('stroke-width', 1.4));

  const lines = g.append('g').attr('clip-path', 'url(#rankClip)');
  rankValues.forEach((vals, k) => {
    const pts = vals.map((v, i) => [rankGrid[i], v]);
    pts.push([rankEnds[k], -4.0], [rankEnds[k], floor], [rankMaxRank, floor]);
    lines.append('path').attr('d', d3.line().x(d => x(d[0])).y(d => y(d[1]))(pts))
      .attr('fill', 'none').attr('stroke', rankColors[k]).attr('stroke-width', 2);
  });

  svg.append('rect').attr('x', box[0]).attr('y', box[1])
    .attr('width', box[2] - box[0]).attr('height', box[3] - box[1])
    .attr('fill', 'none').attr('stroke', '#555').attr('stroke-width', 1.2);

  const ya = svg.append('g').attr('transform', `translate(${box[0]},0)`)
    .call(d3.axisLeft(y).tickValues([-4, -3, -2, -1]).tickFormat(d3.format('d')).tickSize(3).tickSizeOuter(0));
  ya.select('.domain').remove();
  styleAxis(ya, 9, '#4d4d4d', 1);
  const xa = svg.append('g').attr('transform', `translate(0,${box[3]})`)
    .call(d3.axisBottom(x).tickValues([0, 200, 400, 600]).tickSize(3).tickSizeOuter(0));
  xa.select('.domain').remove();
  styleAxis(xa, 9, '#4d4d4d', 1);

  svg.append('text').attr('x', (box[0] + box[2]) / 2).attr('y', 1118).attr('text-anchor', 'middle')
    .attr('font-family', SANS).attr('font-size', 11).attr('font-weight', 'bold').attr('fill', '#333').text('OTU rank');
  svg.append('text').attr('transform', `translate(1203,826) rotate(-90)`).attr('text-anchor', 'middle')
    .attr('font-family', SANS).attr('font-size', 11).attr('font-weight', 'bold').attr('fill', '#333')
    .text('Log10(Relative read abundance)');

  const lg = svg.append('g').attr('font-family', SANS);
  lg.append('text').attr('x', 1764).attr('y', 682).attr('font-size', 13).text('Sample');
  rankSamples.forEach((name, k) => {
    const col = Math.floor(k / 15), row = k % 15;
    const lx = col ? 1830 : 1764, ly = 699 + 22.6 * row;
    lg.append('line').attr('x1', lx).attr('x2', lx + 17).attr('y1', ly).attr('y2', ly)
      .attr('stroke', rankColors[k]).attr('stroke-width', 3);
    lg.append('text').attr('x', lx + 21).attr('y', ly).attr('dy', '0.35em').attr('font-size', 10.5).text(name);
  });
}

function alphaMarker(g, kind, cx, cy, col) {
  const h = 4.5;
  if (kind === 0) g.append('circle').attr('cx', cx).attr('cy', cy).attr('r', h).attr('fill', col);
  if (kind === 1) g.append('path').attr('d', `M${cx},${cy - h * 1.15}L${cx + h},${cy + h * 0.8}L${cx - h},${cy + h * 0.8}Z`).attr('fill', col);
  if (kind === 2) g.append('rect').attr('x', cx - h).attr('y', cy - h).attr('width', 2 * h).attr('height', 2 * h).attr('fill', col);
  if (kind === 3) g.append('path').attr('d', `M${cx - h},${cy}H${cx + h}M${cx},${cy - h}V${cy + h}`)
    .attr('stroke', col).attr('stroke-width', 2.2);
  if (kind === 4) g.append('path')
    .attr('d', `M${cx - h},${cy - h}H${cx + h}V${cy + h}H${cx - h}ZM${cx - h},${cy - h}L${cx + h},${cy + h}M${cx + h},${cy - h}L${cx - h},${cy + h}`)
    .attr('fill', 'none').attr('stroke', col).attr('stroke-width', 1.6);
}

function drawAlpha(cfg) {
  const colors = ['#1f5fae', '#1a9a1a', '#f55c0f', '#8a2597', '#e6e619'];
  const pointColors = ['#1f5fae', '#1a9a1a', '#f55c0f', '#b56cc4', '#e6e619'];
  const jitter = [-0.14, 0.1, -0.03, 0.16, -0.09, 0.05];
  const x = d3.scalePoint().domain(groups).range([cfg.left, cfg.right]).padding(0.6);
  const y = d3.scaleLinear().domain(cfg.yDom).range([cfg.bottom, cfg.top]);
  const step = x.step(), bw = step * 0.72;
  const g = svg.append('g');

  cfg.values.forEach((vals, gi) => {
    const s = vals.slice().sort(d3.ascending);
    const q1 = d3.quantileSorted(s, 0.25), med = d3.quantileSorted(s, 0.5), q3 = d3.quantileSorted(s, 0.75);
    const iqr = q3 - q1;
    const lo = d3.min(s.filter(v => v >= q1 - 1.5 * iqr));
    const hi = d3.max(s.filter(v => v <= q3 + 1.5 * iqr));
    const cx = x(groups[gi]), col = colors[gi];
    g.append('line').attr('x1', cx).attr('x2', cx).attr('y1', y(hi)).attr('y2', y(q3)).attr('stroke', col).attr('stroke-width', 1.8);
    g.append('line').attr('x1', cx).attr('x2', cx).attr('y1', y(q1)).attr('y2', y(lo)).attr('stroke', col).attr('stroke-width', 1.8);
    g.append('rect').attr('x', cx - bw / 2).attr('y', y(q3)).attr('width', bw).attr('height', Math.max(1, y(q1) - y(q3)))
      .attr('fill', '#fff').attr('fill-opacity', 0.6).attr('stroke', col).attr('stroke-width', 2);
    g.append('line').attr('x1', cx - bw / 2).attr('x2', cx + bw / 2).attr('y1', y(med)).attr('y2', y(med))
      .attr('stroke', col).attr('stroke-width', 2.4);
    vals.forEach((v, k) => alphaMarker(g, gi, cx + jitter[k] * step, y(v), pointColors[gi]));
  });

  cfg.bars.forEach((bv, k) => {
    const [i, j] = sigPairs[k];
    const x1 = x(groups[i]), x2 = x(groups[j]);
    g.append('line').attr('x1', x1).attr('x2', x2).attr('y1', y(bv)).attr('y2', y(bv))
      .attr('stroke', '#000').attr('stroke-width', 2);
    g.append('text').attr('x', (x1 + x2) / 2).attr('y', y(bv) - (cfg.sig[k] === 'ns' ? 3 : -3))
      .attr('text-anchor', 'middle').attr('font-family', SANS).attr('font-size', 18)
      .text(cfg.sig[k]);
  });

  const ya = svg.append('g').attr('transform', `translate(${cfg.left},0)`)
    .call(d3.axisLeft(y).tickValues(cfg.ticks).tickFormat(cfg.fmt).tickSize(5).tickSizeOuter(0));
  styleAxis(ya, 14, '#000', 2);
  ya.selectAll('text').attr('letter-spacing', '-0.5px');
  const xa = svg.append('g').attr('transform', `translate(0,${cfg.bottom})`)
    .call(d3.axisBottom(x).tickSize(5).tickSizeOuter(0));
  xa.select('.domain').attr('d', `M${cfg.left},0H${cfg.right}`);
  styleAxis(xa, 15, '#000', 2);
  xa.selectAll('text').attr('y', 0).attr('dy', '0.35em')
    .attr('transform', 'translate(2,12) rotate(-60)').attr('text-anchor', 'end');

  svg.append('text').attr('transform', `translate(${cfg.left - 46},${(cfg.top + cfg.bottom) / 2 + 10}) rotate(-90)`)
    .attr('text-anchor', 'middle').attr('font-family', SANS).attr('font-size', 23).text(cfg.title);
}

function covEllipse(px, py, r) {
  const n = px.length, mx = d3.mean(px), my = d3.mean(py);
  let sxx = 0, syy = 0, sxy = 0;
  for (let i = 0; i < n; i++) {
    const dx = px[i] - mx, dy = py[i] - my;
    sxx += dx * dx; syy += dy * dy; sxy += dx * dy;
  }
  sxx /= n - 1; syy /= n - 1; sxy /= n - 1;
  const tr = sxx + syy, det = sxx * syy - sxy * sxy;
  const disc = Math.sqrt(Math.max(tr * tr / 4 - det, 0));
  const l1 = tr / 2 + disc, l2 = Math.max(tr / 2 - disc, 0);
  const th = Math.atan2(l1 - sxx, sxy);
  return d3.range(0, 121).map(k => {
    const t = 2 * Math.PI * k / 120;
    const u = r * Math.sqrt(l1) * Math.cos(t), v = r * Math.sqrt(l2) * Math.sin(t);
    return [mx + u * Math.cos(th) - v * Math.sin(th), my + u * Math.sin(th) + v * Math.cos(th)];
  });
}

const ordColors = ['#1f5fae', '#1a9a1a', '#f5822a', '#8b3a9b', '#e3e30a'];

function ordMarker(g, kind, cx, cy) {
  const h = 4.5, col = ordColors[kind];
  if (kind === 0) g.append('circle').attr('cx', cx).attr('cy', cy).attr('r', h).attr('fill', col);
  if (kind === 1) g.append('path').attr('d', `M${cx},${cy - h * 1.2}L${cx + h},${cy + h * 0.85}L${cx - h},${cy + h * 0.85}Z`).attr('fill', col);
  if (kind === 2) {
    g.append('rect').attr('x', cx - h).attr('y', cy - h).attr('width', 2 * h).attr('height', 2 * h).attr('rx', 1.5)
      .attr('fill', '#fde3cc').attr('stroke', col).attr('stroke-width', 1.2);
    g.append('path').attr('d', `M${cx - h},${cy - h}L${cx + h},${cy + h}M${cx + h},${cy - h}L${cx - h},${cy + h}`)
      .attr('stroke', col).attr('stroke-width', 1.3);
  }
  if (kind === 3) {
    g.append('circle').attr('cx', cx).attr('cy', cy).attr('r', h).attr('fill', '#e8d6ee');
    g.append('path').attr('d', `M${cx - h},${cy - h}L${cx + h},${cy + h}M${cx + h},${cy - h}L${cx - h},${cy + h}M${cx},${cy - h}V${cy + h}`)
      .attr('stroke', '#9b55ab').attr('stroke-width', 1.3);
  }
  if (kind === 4) g.append('rect').attr('x', cx - h).attr('y', cy - h).attr('width', 2 * h).attr('height', 2 * h).attr('fill', col);
}

function drawOrdination(cfg) {
  const box = cfg.box;
  const x = d3.scaleLinear().domain(cfg.xDom).range([box[0], box[2]]);
  const y = d3.scaleLinear().domain(cfg.yDom).range([box[3], box[1]]);
  const id = 'clip' + cfg.key;
  svg.append('clipPath').attr('id', id).append('rect')
    .attr('x', box[0]).attr('y', box[1]).attr('width', box[2] - box[0]).attr('height', box[3] - box[1]);
  const g = svg.append('g').attr('clip-path', `url(#${id})`);

  g.append('line').attr('x1', x(0)).attr('x2', x(0)).attr('y1', box[1]).attr('y2', box[3])
    .attr('stroke', '#888').attr('stroke-width', 1).attr('stroke-dasharray', '4,3');
  g.append('line').attr('x1', box[0]).attr('x2', box[2]).attr('y1', y(0)).attr('y2', y(0))
    .attr('stroke', '#888').attr('stroke-width', 1.4).attr('stroke-dasharray', '1.5,3');

  if (cfg.ellipse) {
    groups.forEach((name, gi) => {
      const pts = covEllipse(cfg.xs[gi], cfg.ys[gi], 2.2);
      g.append('path').attr('d', d3.line().x(d => x(d[0])).y(d => y(d[1]))(pts) + 'Z')
        .attr('fill', ordColors[gi]).attr('fill-opacity', 0.1)
        .attr('stroke', ordColors[gi]).attr('stroke-width', 1.6);
      const mx = d3.mean(cfg.xs[gi]), my = d3.mean(cfg.ys[gi]);
      cfg.xs[gi].forEach((vx, k) => {
        g.append('line').attr('x1', x(mx)).attr('y1', y(my)).attr('x2', x(vx)).attr('y2', y(cfg.ys[gi][k]))
          .attr('stroke', ordColors[gi]).attr('stroke-width', 1.4).attr('stroke-dasharray', '1.5,1.5')
          .attr('stroke-opacity', 0.8);
      });
    });
  }
  groups.forEach((name, gi) => {
    cfg.xs[gi].forEach((vx, k) => ordMarker(g, gi, x(vx), y(cfg.ys[gi][k])));
  });

  svg.append('rect').attr('x', box[0]).attr('y', box[1])
    .attr('width', box[2] - box[0]).attr('height', box[3] - box[1])
    .attr('fill', 'none').attr('stroke', '#555').attr('stroke-width', 1.2);

  const ya = svg.append('g').attr('transform', `translate(${box[0]},0)`)
    .call(d3.axisLeft(y).tickValues(cfg.yTicks).tickFormat(cfg.yFmt).tickSize(3).tickSizeOuter(0));
  ya.select('.domain').remove();
  styleAxis(ya, 8, '#333', 1);
  const xa = svg.append('g').attr('transform', `translate(0,${box[3]})`)
    .call(d3.axisBottom(x).tickValues(cfg.xTicks).tickFormat(cfg.xFmt).tickSize(3).tickSizeOuter(0));
  xa.select('.domain').remove();
  styleAxis(xa, 8, '#333', 1);

  svg.append('text').attr('x', (box[0] + box[2]) / 2).attr('y', box[1] - 9).attr('text-anchor', 'middle')
    .attr('font-family', SANS).attr('font-size', 14).text(cfg.title);
  svg.append('text').attr('x', (box[0] + box[2]) / 2).attr('y', box[3] + 21).attr('text-anchor', 'middle')
    .attr('font-family', SANS).attr('font-size', 10).text(cfg.xLab);
  svg.append('text').attr('transform', `translate(${box[0] - 30},${(box[1] + box[3]) / 2}) rotate(-90)`)
    .attr('text-anchor', 'middle').attr('font-family', SANS).attr('font-size', 10).text(cfg.yLab);
  if (cfg.stress) {
    svg.append('text').attr('x', box[2] - 8).attr('y', box[1] + 22).attr('text-anchor', 'end')
      .attr('font-family', SANS).attr('font-size', 9).text(cfg.stress);
  }

  const lg = svg.append('g').attr('font-family', SANS);
  const lx = box[2] + 18, ly = (box[1] + box[3]) / 2 - 45;
  lg.append('text').attr('x', lx).attr('y', ly).attr('font-size', 11).text('Group');
  groups.forEach((name, gi) => {
    const yy = ly + 19 + 18.5 * gi;
    if (cfg.ellipse) {
      lg.append('rect').attr('x', lx).attr('y', yy - 9).attr('width', 15).attr('height', 18).attr('rx', 3)
        .attr('fill', ordColors[gi]).attr('fill-opacity', 0.08)
        .attr('stroke', ordColors[gi]).attr('stroke-width', 1.5);
    }
    ordMarker(lg, gi, lx + 7.5, yy);
    lg.append('text').attr('x', lx + 22).attr('y', yy).attr('dy', '0.35em').attr('font-size', 8.5).text(name);
  });
}

function dendroColor(name) {
  if (name.startsWith('HN+T1')) return '#f26a1b';
  if (name.startsWith('HN+T2')) return '#7d2d91';
  if (name.startsWith('HN')) return '#2ca02c';
  if (name.startsWith('T2')) return '#e6e619';
  return '#1f5aa8';
}

function drawDendrogram() {
  const x = d3.scaleLinear().domain([1.2, 0]).range([1173, 1719]);
  const y = d3.scaleLinear().domain([0, dendroLeaves.length - 1]).range([1245, 2220]);
  const leafY = new Map(dendroLeaves.map((n, i) => [n, y(i)]));
  const nodes = [];
  const pos = ref => typeof ref === 'number' ? nodes[ref] : { x: x(0), y: leafY.get(ref) };
  const g = svg.append('g').attr('fill', 'none').attr('stroke', '#111').attr('stroke-width', 1.6);
  mergeHeight.forEach((h, k) => {
    const l = pos(mergeLeft[k]), r = pos(mergeRight[k]);
    const nx = x(h);
    g.append('path').attr('d', `M${l.x},${l.y}H${nx}V${r.y}H${r.x}`);
    nodes[k] = { x: nx, y: (l.y + r.y) / 2 };
  });

  svg.append('g').selectAll('text').data(dendroLeaves).join('text')
    .attr('x', x(0) + 7).attr('y', d => leafY.get(d)).attr('dy', '0.36em')
    .attr('font-family', SANS).attr('font-size', 22).attr('fill', d => dendroColor(d)).text(d => d);

  const xa = svg.append('g').attr('transform', 'translate(0,2288)')
    .call(d3.axisBottom(x).tickValues([1.2, 0.8, 0.4, 0.0]).tickFormat(d3.format('.1f')).tickSize(0).tickSizeOuter(0));
  xa.select('.domain').attr('d', 'M1147,0H1853');
  styleAxis(xa, 15, '#222', 1.6);
  xa.selectAll('text').attr('dy', '1.1em');
  svg.append('text').attr('x', 1500).attr('y', 2336).attr('text-anchor', 'middle')
    .attr('font-family', SANS).attr('font-size', 20).attr('fill', '#222').text('Distance (Unweighted UniFrac)');
}

drawTree();
drawVenn();
drawRarefaction();
drawRankAbundance();
drawAlpha({ values: chao1, sig: chao1Sig, bars: chao1Bars, left: 112, right: 537, top: 673, bottom: 1021,
  yDom: [122, 1834], ticks: [500, 1000, 1500], fmt: d3.format('d'), title: 'Chao1' });
drawAlpha({ values: pdIndex, sig: pdSig, bars: pdBars, left: 624, right: 1058, top: 673, bottom: 1021,
  yDom: [2.7, 286], ticks: [100, 200], fmt: d3.format('d'), title: 'PD' });
drawAlpha({ values: simpson, sig: simpsonSig, bars: simpsonBars, left: 102, right: 537, top: 1148, bottom: 1450,
  yDom: [0.7995, 1.2565], ticks: [0.8, 0.9, 1.0, 1.1, 1.2], fmt: d3.format('.1f'), title: 'Simpson' });
drawAlpha({ values: shannon, sig: shannonSig, bars: shannonBars, left: 605, right: 1058, top: 1148, bottom: 1450,
  yDom: [3.08, 7.99], ticks: [4, 5, 6, 7], fmt: d3.format('d'), title: 'Shannon' });
drawOrdination({ key: 'I', box: [98, 1543, 477, 1935], xDom: [-0.452, 0.944], yDom: [-0.666, 0.313],
  xs: pcoaX, ys: pcoaY, xTicks: [0, 0.5], yTicks: [-0.5, -0.25, 0, 0.25], xFmt: d3.format('.1f'), yFmt: d3.format('.2f'),
  title: 'PCoA based on Bray-Curtis distance', xLab: 'PCo1 [41.4%]', yLab: 'PCo2 [14.5%]', ellipse: true });
drawOrdination({ key: 'J', box: [663, 1545, 1052, 1935], xDom: [-1.763, 1.859], yDom: [-1.152, 1.984],
  xs: nmdsX, ys: nmdsY, xTicks: [-1, 0, 1], yTicks: [-1, 0, 1], xFmt: d3.format('d'), yFmt: d3.format('d'),
  title: 'NMDS based on  distance', xLab: 'MDS1', yLab: 'MDS2', ellipse: false, stress: nmdsStress });
drawOrdination({ key: 'K', box: [101, 1995, 475, 2385], xDom: [-0.4, 0.587], yDom: [-0.463, 0.282],
  xs: pcoa2X, ys: pcoa2Y, xTicks: [-0.2, 0, 0.2, 0.4], yTicks: [-0.4, -0.2, 0, 0.2], xFmt: d3.format('.1f'), yFmt: d3.format('.1f'),
  title: 'PCoA based on Bray-Curtis distance', xLab: 'PCo1 [41.4%]', yLab: 'PCo2 [14.5%]', ellipse: false });
drawOrdination({ key: 'L', box: [670, 1995, 1052, 2385], xDom: [-5.9, 12.0], yDom: [-6.69, 14.98],
  xs: pcaX, ys: pcaY, xTicks: [-5, 0, 5, 10], yTicks: [-5, 0, 5, 10, 15], xFmt: d3.format('d'), yFmt: d3.format('d'),
  title: 'PCA', xLab: 'PC1 [43.2%]', yLab: 'PC2 [14%]', ellipse: true });
drawDendrogram();

letter('A', 15, 62);
letter('B', 571, 64);
letter('G', 1153, 62);
letter('H', 1157, 643);
letter('C', 17, 708);
letter('D', 600, 708);
letter('E', 21, 1160);
letter('F', 600, 1160);
letter('I', 25, 1588);
letter('J', 600, 1588);
letter('K', 25, 2010);
letter('L', 600, 2010);
letter('M', 1152, 1272);
</script>
</body>
</html>
